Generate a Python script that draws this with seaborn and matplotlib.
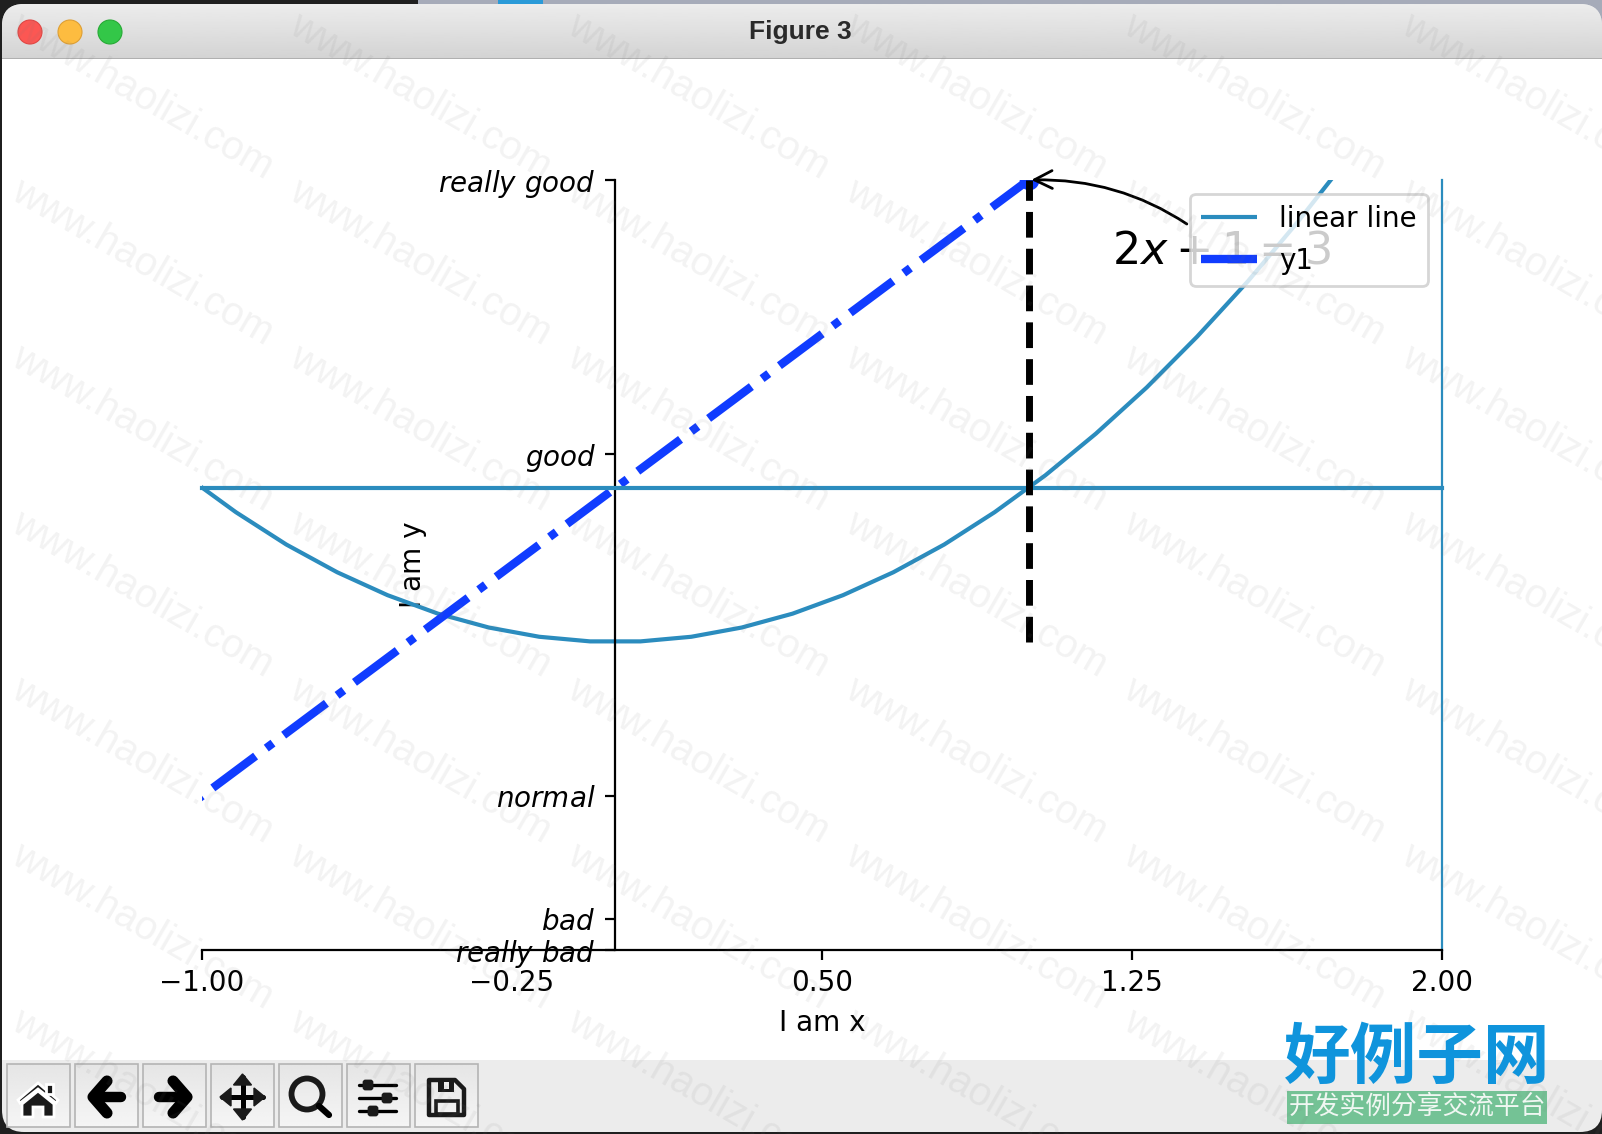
import numpy as np
import matplotlib
matplotlib.use("Agg")
import matplotlib.pyplot as plt
from matplotlib.lines import Line2D
from matplotlib.patches import Circle, FancyBboxPatch, Polygon, Rectangle
import seaborn as sns

# Curve samples
x_curve = [-1.163, -1.041, -0.918, -0.796, -0.673, -0.551, -0.429, -0.306, -0.184, -0.061,
           0.061, 0.184, 0.306, 0.429, 0.551, 0.673, 0.796, 0.918, 1.041, 1.163,
           1.286, 1.408, 1.531, 1.653, 1.776]
y_curve = [1.353, 1.083, 0.843, 0.633, 0.453, 0.304, 0.184, 0.094, 0.034, 0.004,
           0.004, 0.034, 0.094, 0.184, 0.304, 0.453, 0.633, 0.843, 1.083, 1.353,
           1.653, 1.983, 2.343, 2.733, 3.153]
# Straight line end points
x_line = [-3, 3]
y_line = [-5, 7]
# Marked point on the line
x_mark = [1]
y_mark = [3]
x_drop = [1, 1]
y_drop = [0, 3]
# Ticks
x_ticks = [-1.0, -0.25, 0.5, 1.25, 2.0]
y_ticks = [-2, -1.8, -1, 1.22, 3]
y_tick_labels = [r"$really\ bad$", r"$bad$", r"$normal$", r"$good$", r"$really\ good$"]

TEAL = "#2b8cbe"
BLUE = "#103cff"
W, H = 1602, 1134

sns.set_theme(style="ticks", rc={
    "font.family": ["DejaVu Sans"],
    "font.size": 20, "axes.labelsize": 20, "xtick.labelsize": 20, "ytick.labelsize": 20,
    "legend.fontsize": 20, "text.color": "black", "axes.labelcolor": "black",
    "xtick.color": "black", "ytick.color": "black", "axes.edgecolor": "black",
    "axes.linewidth": 1.6, "xtick.major.width": 1.6, "ytick.major.width": 1.6,
    "xtick.major.size": 7, "ytick.major.size": 7, "xtick.major.pad": 7, "ytick.major.pad": 7,
    "axes.labelpad": 8, "patch.linewidth": 2, "mathtext.fontset": "dejavusans",
})

fig = plt.figure(figsize=(W / 100, H / 100), dpi=100, facecolor="#1f1f1f")

# Window frame, title bar and toolbar in pixel coordinates
chrome = fig.add_axes([0, 0, 1, 1], zorder=0)
chrome.set_xlim(0, W)
chrome.set_ylim(H, 0)
chrome.axis("off")
chrome.add_patch(Rectangle((418, 0), W - 418, 30, fc="#a6abb9", ec="none", zorder=0))
chrome.add_patch(Rectangle((498, 0), 45, 30, fc="#2a9ad8", ec="none", zorder=0))
frame = FancyBboxPatch((2, 4), W - 2, H - 6, boxstyle="round,pad=0,rounding_size=22",
                       fc="#ececec", ec="none", zorder=0.5)
chrome.add_patch(frame)
bar = chrome.imshow(np.linspace(0.925, 0.83, 64)[:, None], cmap="gray", vmin=0, vmax=1,
                    extent=(0, W, 58, 4), aspect="auto", zorder=1)
bar.set_clip_path(frame)
chrome.add_patch(Rectangle((2, 57.5), W, 1.5, fc="#b0b0b0", ec="none", zorder=2))
chrome.add_patch(Rectangle((2, 59), W, 1001, fc="white", ec="none", zorder=2))
for cx, fc, ec in [(30, "#fc5753", "#df4744"), (70, "#fdbc40", "#de9f34"), (110, "#33c748", "#27aa35")]:
    chrome.add_patch(Circle((cx, 32), 12, fc=fc, ec=ec, lw=0.8, zorder=3))
chrome.text(800, 31.5, "Figure 3", ha="center", va="center", fontsize=19, color="#2a2a2a",
            family="Liberation Sans", weight="bold", zorder=3)

for i in range(7):
    x0 = 7 + 68 * i
    img = chrome.imshow(np.linspace(0.90, 0.96, 32)[:, None], cmap="gray", vmin=0, vmax=1,
                        extent=(x0, x0 + 63, 1127, 1064), aspect="auto", zorder=2)
    chrome.add_patch(Rectangle((x0, 1064), 63, 63, fc="none", ec="#b4b4b4", lw=1.2, zorder=3))
chrome.set_xlim(0, W)
chrome.set_ylim(H, 0)

ink = {"color": "black", "solid_capstyle": "round", "solid_joinstyle": "round", "zorder": 4}
# home
chrome.add_patch(Polygon([(38, 1083), (58, 1100), (56, 1103), (38, 1089), (20, 1103), (18, 1100)], fc="k", zorder=4))
chrome.add_patch(Polygon([(22, 1104), (38, 1091), (54, 1104), (54, 1117), (43, 1117), (43, 1107),
                          (33, 1107), (33, 1117), (22, 1117)], fc="k", zorder=4))
chrome.add_patch(Rectangle((46, 1084), 7, 10, fc="k", zorder=4))
# back and forward
chrome.plot([94, 121], [1097, 1097], lw=7.5, **ink)
chrome.plot([107, 93, 107], [1081, 1097, 1113], lw=8, **ink)
chrome.plot([159, 187], [1097, 1097], lw=7.5, **ink)
chrome.plot([173, 187, 173], [1081, 1097, 1113], lw=8, **ink)
# pan
chrome.plot([222, 263], [1097, 1097], lw=3.6, **ink)
chrome.plot([242.5, 242.5], [1077, 1117], lw=3.6, **ink)
for px, py, dx, dy in [(220, 1097, 1, 0), (265, 1097, -1, 0), (242.5, 1074, 0, 1), (242.5, 1120, 0, -1)]:
    chrome.add_patch(Polygon([(px, py), (px + 11 * dx + 9 * dy, py + 11 * dy + 9 * dx),
                              (px + 11 * dx - 9 * dy, py + 11 * dy - 9 * dx)], fc="k", ec="k", lw=1, zorder=4))
# zoom
chrome.add_patch(Circle((307, 1094), 15.5, fc="none", ec="k", lw=4.2, zorder=4))
chrome.plot([319, 329], [1106, 1115], lw=4.5, **ink)
# settings
for yy, xk in [(1085, 368), (1098, 387), (1111, 373)]:
    chrome.plot([359, 396], [yy, yy], lw=2.4, **ink)
    chrome.add_patch(FancyBboxPatch((xk - 4, yy - 4), 8, 8, boxstyle="round,pad=0,rounding_size=1.5",
                                    fc="k", ec="k", zorder=5))
# save
chrome.add_patch(Polygon([(429, 1080), (455, 1080), (464, 1089), (464, 1115), (429, 1115)], fc="none",
                         ec="k", lw=3.2, joinstyle="round", zorder=4))
chrome.add_patch(Rectangle((438, 1080), 16, 12, fc="k", ec="none", zorder=4))
chrome.add_patch(Rectangle((444, 1082), 5, 7, fc="#eeeeee", ec="none", zorder=5))
chrome.add_patch(Rectangle((436, 1101), 22, 13, fc="none", ec="k", lw=2.6, zorder=4))

# Main plot
ax = fig.add_axes([202 / W, 1 - 950 / H, (1441.8 - 202) / W, (950 - 180) / H], zorder=1)
ax.patch.set_alpha(0)
sns.lineplot(x=x_curve, y=y_curve, ax=ax, color=TEAL, lw=3, errorbar=None)
sns.lineplot(x=x_line, y=y_line, ax=ax, color=BLUE, lw=6, linestyle=(10.4, (6.4, 1.6, 1, 1.6)),
             errorbar=None)
sns.scatterplot(x=x_mark, y=y_mark, ax=ax, color=BLUE, s=200, linewidth=0, zorder=2.5)
sns.lineplot(x=x_drop, y=y_drop, ax=ax, color="black", lw=5, linestyle="--", errorbar=None,
             estimator=None, sort=False, zorder=3)

ax.set_xlim(-1, 2)
ax.set_ylim(-2, 3)
ax.set_xticks(x_ticks)
ax.set_xticklabels([f"{v:.2f}".replace("-", "\u2212") for v in x_ticks])
ax.set_yticks(y_ticks)
ax.set_yticklabels(y_tick_labels)
ax.set_xlabel("I am x")
ax.set_ylabel("I am y")

ax.spines["left"].set_position(("data", 0))
ax.spines["top"].set_visible(True)
ax.spines["top"].set_position(("data", 1))
ax.spines["top"].set_color(TEAL)
ax.spines["top"].set_linewidth(3)
ax.spines["right"].set_visible(True)
ax.spines["right"].set_color(TEAL)
ax.spines["right"].set_linewidth(1.6)

ax.annotate(r"$2x+1=3$", xy=(1, 3), xycoords="data", xytext=(60, -60), textcoords="offset points",
            fontsize=32, arrowprops=dict(arrowstyle="->", connectionstyle="arc3,rad=.2", lw=2, color="black"))

handles = [Line2D([], [], color=TEAL, lw=3, solid_capstyle="butt"),
           Line2D([], [], color=BLUE, lw=6, solid_capstyle="butt")]
ax.legend(handles, ["linear line", "y1"], loc="upper right", frameon=True, fancybox=True,
          framealpha=0.8, edgecolor="0.8")

# Repeating site mark across the window
over = fig.add_axes([0, 0, 1, 1], zorder=3)
over.set_xlim(0, W)
over.set_ylim(H, 0)
over.axis("off")
over.patch.set_alpha(0)
for row in range(7):
    for col in range(6):
        over.text(142 + 278 * col, 96 + 166 * row, "www.haolizi.com", rotation=-30, rotation_mode="anchor",
                  ha="center", va="center", fontsize=28.8, family="Liberation Sans",
                  color="#777777", alpha=0.09, clip_on=True)

over.text(1417, 1058, "好例子网", ha="center", va="center", fontsize=48, weight="bold",
          family=["Noto Sans CJK SC", "DejaVu Sans"], color="#0f94dc")
over.add_patch(Rectangle((1287, 1091), 260, 33, fc="#74c295", ec="none"))
over.text(1417, 1107, "开发实例分享交流平台", ha="center", va="center", fontsize=18.5,
          family=["Noto Sans CJK SC", "DejaVu Sans"], color="#f0f7f2")

fig.savefig("out.png", dpi=100, facecolor=fig.get_facecolor())
